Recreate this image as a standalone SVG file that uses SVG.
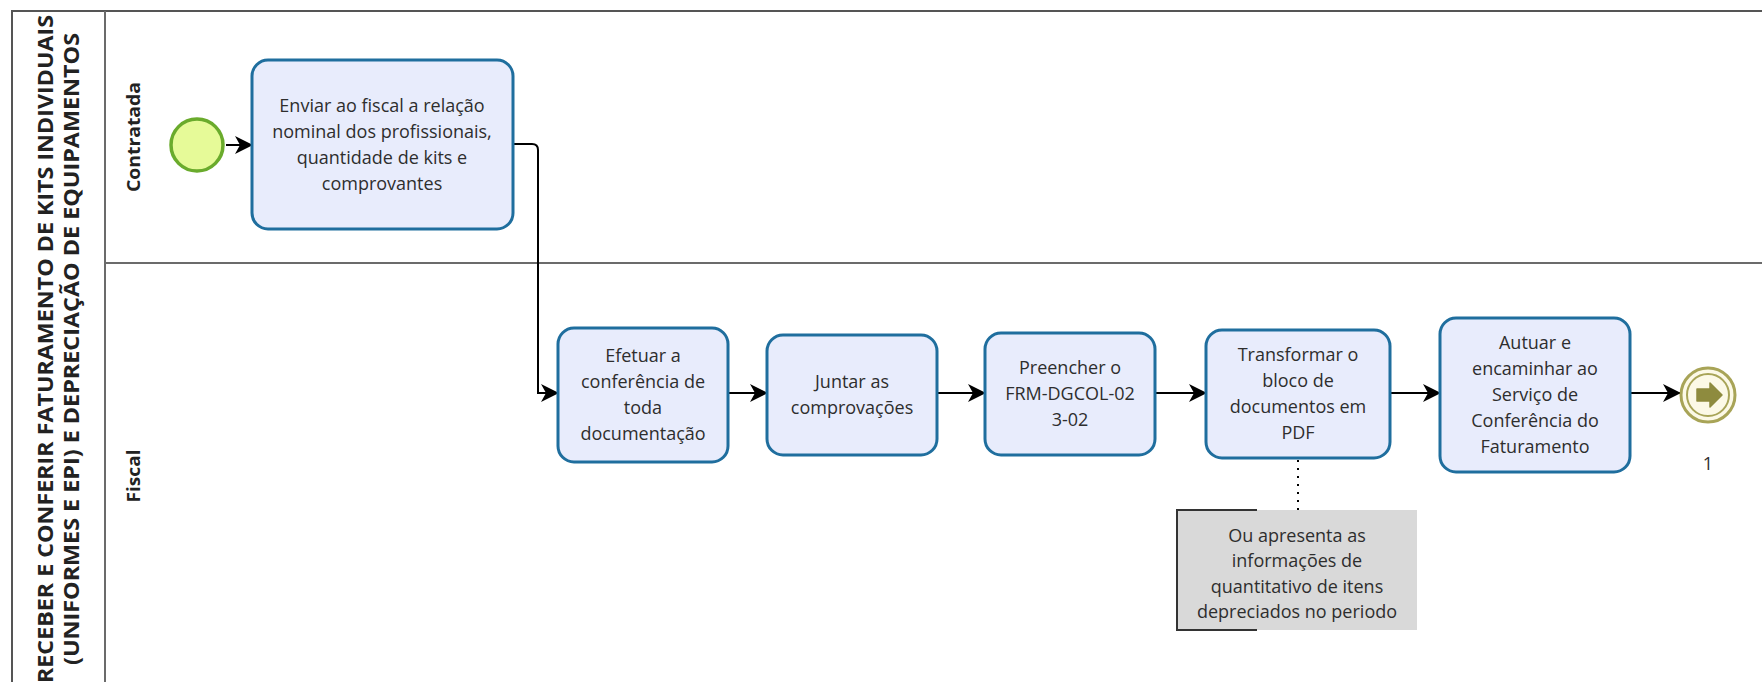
<svg xmlns="http://www.w3.org/2000/svg" width="1762" height="682" viewBox="0 0 1762 682">
<style>
.pool{fill:#ffffff;stroke:#555555;stroke-width:2}
.lane{stroke:#6b6b6b;stroke-width:2;fill:none}
.title{font-family:"Open Sans","Liberation Sans",sans-serif;font-weight:bold;font-size:21px;fill:#222222;text-anchor:middle}
.lanelbl{font-family:"Open Sans","Liberation Sans",sans-serif;font-weight:bold;font-size:18px;fill:#222222;text-anchor:middle}
.task rect{fill:#e8ecfc;stroke:#1f6e9e;stroke-width:3}
.txt{font-family:"Open Sans","Liberation Sans",sans-serif;font-size:18px;fill:#2e2e2e;text-anchor:middle}
.flow{fill:none;stroke:#000000;stroke-width:2;marker-end:url(#arr)}
</style>
<defs>
<marker id="arr" viewBox="0 0 18 20" refX="17" refY="10" markerWidth="18" markerHeight="20" markerUnits="userSpaceOnUse" orient="auto">
<path d="M0,1 L18,10 L0,19 L5,10 z" fill="#000000"/>
</marker>
</defs>
<rect width="1762" height="682" fill="#ffffff"/>
<g id="pool">
<rect class="pool" x="12" y="11" width="1770" height="680"/>
<line class="lane" x1="105" y1="11" x2="105" y2="691"/>
<line class="lane" x1="105" y1="263" x2="1782" y2="263"/>
<text class="title" transform="translate(53,349) rotate(-90)" textLength="668" lengthAdjust="spacingAndGlyphs">RECEBER E CONFERIR FATURAMENTO DE KITS INDIVIDUAIS</text>
<text class="title" transform="translate(79,349) rotate(-90)" textLength="632" lengthAdjust="spacingAndGlyphs">(UNIFORMES E EPI) E DEPRECIAÇÃO DE EQUIPAMENTOS</text>
</g>
<g id="lane-contratada">
<text class="lanelbl" transform="translate(140,137) rotate(-90)" textLength="110" lengthAdjust="spacingAndGlyphs">Contratada</text>
</g>
<g id="lane-fiscal">
<text class="lanelbl" transform="translate(140,476) rotate(-90)" textLength="53" lengthAdjust="spacingAndGlyphs">Fiscal</text>
</g>
<g id="connectors">
<line class="flow" x1="226" y1="145" x2="252" y2="145"/>
<path class="flow" d="M513,144 H532 Q538,144 538,150 V393 H558"/>
<line class="flow" x1="728" y1="393" x2="767" y2="393"/>
<line class="flow" x1="937" y1="393" x2="985" y2="393"/>
<line class="flow" x1="1155" y1="393" x2="1206" y2="393"/>
<line class="flow" x1="1390" y1="393" x2="1440" y2="393"/>
<line class="flow" x1="1630" y1="393" x2="1680" y2="393"/>
<line x1="1298" y1="460" x2="1298" y2="510" stroke="#000000" stroke-width="2" stroke-dasharray="2,6"/>
</g>
<g id="start">
<circle cx="197" cy="145" r="26" fill="#e6fa98" stroke="#6aab2c" stroke-width="3.5"/>
</g>
<g id="task1" class="task">
<rect x="252" y="60" width="261" height="169" rx="16"/>
<text class="txt"><tspan x="382" y="112">Enviar ao fiscal a relação</tspan><tspan x="382" y="138">nominal dos profissionais,</tspan><tspan x="382" y="164">quantidade de kits e</tspan><tspan x="382" y="190">comprovantes</tspan></text>
</g>
<g id="task2" class="task">
<rect x="558" y="328" width="170" height="134" rx="16"/>
<text class="txt"><tspan x="643" y="362">Efetuar a</tspan><tspan x="643" y="388">conferência de</tspan><tspan x="643" y="414">toda</tspan><tspan x="643" y="440">documentação</tspan></text>
</g>
<g id="task3" class="task">
<rect x="767" y="335" width="170" height="120" rx="16"/>
<text class="txt"><tspan x="852" y="388">Juntar as</tspan><tspan x="852" y="414">comprovações</tspan></text>
</g>
<g id="task4" class="task">
<rect x="985" y="333" width="170" height="122" rx="16"/>
<text class="txt"><tspan x="1070" y="374">Preencher o</tspan><tspan x="1070" y="400">FRM-DGCOL-02</tspan><tspan x="1070" y="426">3-02</tspan></text>
</g>
<g id="task5" class="task">
<rect x="1206" y="330" width="184" height="128" rx="16"/>
<text class="txt"><tspan x="1298" y="361">Transformar o</tspan><tspan x="1298" y="387">bloco de</tspan><tspan x="1298" y="413">documentos em</tspan><tspan x="1298" y="439">PDF</tspan></text>
</g>
<g id="task6" class="task">
<rect x="1440" y="318" width="190" height="154" rx="16"/>
<text class="txt"><tspan x="1535" y="349">Autuar e</tspan><tspan x="1535" y="375">encaminhar ao</tspan><tspan x="1535" y="401">Serviço de</tspan><tspan x="1535" y="427">Conferência do</tspan><tspan x="1535" y="453">Faturamento</tspan></text>
</g>
<g id="end">
<circle cx="1708" cy="395" r="27" fill="#fcf9e6" stroke="#a8a457" stroke-width="3"/>
<circle cx="1708" cy="395" r="21" fill="none" stroke="#a8a457" stroke-width="2"/>
<path d="M1697,389 H1710 V383 L1722,395 L1710,407 V401 H1697 z" fill="#8e8b3e" stroke="#8e8b3e" stroke-width="1.5" stroke-linejoin="round"/>
<text class="txt" x="1708" y="470">1</text>
</g>
<g id="annotation">
<rect x="1177" y="510" width="240" height="120" fill="#d9d9d9"/>
<path d="M1257,510 H1177 V630 H1257" fill="none" stroke="#333333" stroke-width="2"/>
<text class="txt"><tspan x="1297" y="542">Ou apresenta as</tspan><tspan x="1297" y="567">informações de</tspan><tspan x="1297" y="593">quantitativo de itens</tspan><tspan x="1297" y="618">depreciados no periodo</tspan></text>
</g>
</svg>
